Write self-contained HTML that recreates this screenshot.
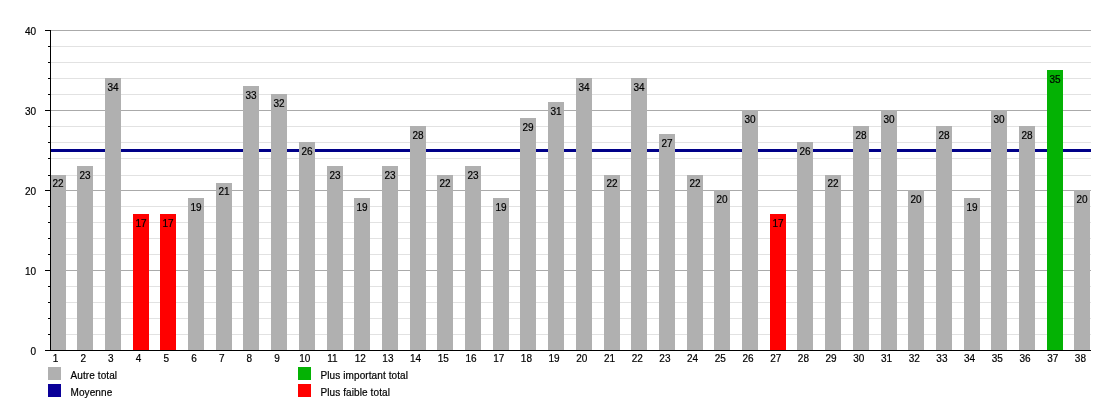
<!DOCTYPE html>
<html><head><meta charset="utf-8"><title>Chart</title>
<style>
html,body{margin:0;padding:0;background:#fff;}
#c{position:relative;width:1120px;height:400px;overflow:hidden;background:#fff;font-family:"Liberation Sans",sans-serif;font-size:10px;line-height:12px;color:#000;}
#c div{position:absolute;}
#c #tx{left:0;top:0;width:1120px;height:400px;will-change:transform;transform:translateZ(0);-webkit-text-stroke:0.2px #000;}
.g{left:51px;width:1040px;height:1px;background:#e2e2e2;}
.G{left:51px;width:1040px;height:1px;background:#aaaaaa;}
.t{left:48px;width:2px;height:1px;background:#000;}
.T{left:45px;width:5px;height:1px;background:#000;}
.b{width:16px;background:#b0b0b0;}
.r{background:#ff0000;}.n{background:#04b204;}
.x{width:30px;text-align:center;top:353px;}
.y{width:30px;text-align:right;}
.s{width:13px;height:13px;}
.v{width:30px;text-align:center;}
.l{white-space:nowrap;letter-spacing:0.1px;}
</style></head>
<body><div id="c">
<div class="g" style="top:334px"></div>
<div class="g" style="top:318px"></div>
<div class="g" style="top:302px"></div>
<div class="g" style="top:286px"></div>
<div class="G" style="top:270px"></div>
<div class="g" style="top:254px"></div>
<div class="g" style="top:238px"></div>
<div class="g" style="top:222px"></div>
<div class="g" style="top:206px"></div>
<div class="G" style="top:190px"></div>
<div class="g" style="top:175px"></div>
<div class="g" style="top:158px"></div>
<div class="g" style="top:142px"></div>
<div class="g" style="top:126px"></div>
<div class="G" style="top:110px"></div>
<div class="g" style="top:94px"></div>
<div class="g" style="top:78px"></div>
<div class="g" style="top:62px"></div>
<div class="g" style="top:46px"></div>
<div class="G" style="top:30px"></div>
<div style="left:51px;top:149px;width:1040px;height:3px;background:#000088"></div>
<div class="b" style="left:50px;top:175px;height:175px"></div>
<div class="b" style="left:77px;top:166px;height:184px"></div>
<div class="b" style="left:105px;top:78px;height:272px"></div>
<div class="b r" style="left:133px;top:214px;height:136px"></div>
<div class="b r" style="left:160px;top:214px;height:136px"></div>
<div class="b" style="left:188px;top:198px;height:152px"></div>
<div class="b" style="left:216px;top:183px;height:167px"></div>
<div class="b" style="left:243px;top:86px;height:264px"></div>
<div class="b" style="left:271px;top:94px;height:256px"></div>
<div class="b" style="left:299px;top:142px;height:208px"></div>
<div class="b" style="left:327px;top:166px;height:184px"></div>
<div class="b" style="left:354px;top:198px;height:152px"></div>
<div class="b" style="left:382px;top:166px;height:184px"></div>
<div class="b" style="left:410px;top:126px;height:224px"></div>
<div class="b" style="left:437px;top:175px;height:175px"></div>
<div class="b" style="left:465px;top:166px;height:184px"></div>
<div class="b" style="left:493px;top:198px;height:152px"></div>
<div class="b" style="left:520px;top:118px;height:232px"></div>
<div class="b" style="left:548px;top:102px;height:248px"></div>
<div class="b" style="left:576px;top:78px;height:272px"></div>
<div class="b" style="left:604px;top:175px;height:175px"></div>
<div class="b" style="left:631px;top:78px;height:272px"></div>
<div class="b" style="left:659px;top:134px;height:216px"></div>
<div class="b" style="left:687px;top:175px;height:175px"></div>
<div class="b" style="left:714px;top:190px;height:160px"></div>
<div class="b" style="left:742px;top:110px;height:240px"></div>
<div class="b r" style="left:770px;top:214px;height:136px"></div>
<div class="b" style="left:797px;top:142px;height:208px"></div>
<div class="b" style="left:825px;top:175px;height:175px"></div>
<div class="b" style="left:853px;top:126px;height:224px"></div>
<div class="b" style="left:881px;top:110px;height:240px"></div>
<div class="b" style="left:908px;top:190px;height:160px"></div>
<div class="b" style="left:936px;top:126px;height:224px"></div>
<div class="b" style="left:964px;top:198px;height:152px"></div>
<div class="b" style="left:991px;top:110px;height:240px"></div>
<div class="b" style="left:1019px;top:126px;height:224px"></div>
<div class="b n" style="left:1047px;top:70px;height:280px"></div>
<div class="b" style="left:1074px;top:190px;height:160px"></div>
<div style="left:50px;top:30px;width:1px;height:321px;background:#000"></div>
<div style="left:45px;top:350px;width:1046px;height:1px;background:#000"></div>
<div class="T" style="top:350px"></div>
<div class="t" style="top:334px"></div>
<div class="t" style="top:318px"></div>
<div class="t" style="top:302px"></div>
<div class="t" style="top:286px"></div>
<div class="T" style="top:270px"></div>
<div class="t" style="top:254px"></div>
<div class="t" style="top:238px"></div>
<div class="t" style="top:222px"></div>
<div class="t" style="top:206px"></div>
<div class="T" style="top:190px"></div>
<div class="t" style="top:175px"></div>
<div class="t" style="top:158px"></div>
<div class="t" style="top:142px"></div>
<div class="t" style="top:126px"></div>
<div class="T" style="top:110px"></div>
<div class="t" style="top:94px"></div>
<div class="t" style="top:78px"></div>
<div class="t" style="top:62px"></div>
<div class="t" style="top:46px"></div>
<div class="T" style="top:30px"></div>
<div class="s" style="left:48px;top:367px;background:#b0b0b0"></div>
<div class="s" style="left:48px;top:384px;background:#0a0099"></div>
<div class="s" style="left:298px;top:367px;background:#04b204"></div>
<div class="s" style="left:298px;top:384px;background:#ff0000"></div>
<div id="tx">
<div class="v" style="left:43px;top:177.5px">22</div>
<div class="v" style="left:70px;top:169.5px">23</div>
<div class="v" style="left:98px;top:81.5px">34</div>
<div class="v" style="left:126px;top:217.5px">17</div>
<div class="v" style="left:153px;top:217.5px">17</div>
<div class="v" style="left:181px;top:201.5px">19</div>
<div class="v" style="left:209px;top:185.5px">21</div>
<div class="v" style="left:236px;top:89.5px">33</div>
<div class="v" style="left:264px;top:97.5px">32</div>
<div class="v" style="left:292px;top:145.5px">26</div>
<div class="v" style="left:320px;top:169.5px">23</div>
<div class="v" style="left:347px;top:201.5px">19</div>
<div class="v" style="left:375px;top:169.5px">23</div>
<div class="v" style="left:403px;top:129.5px">28</div>
<div class="v" style="left:430px;top:177.5px">22</div>
<div class="v" style="left:458px;top:169.5px">23</div>
<div class="v" style="left:486px;top:201.5px">19</div>
<div class="v" style="left:513px;top:121.5px">29</div>
<div class="v" style="left:541px;top:105.5px">31</div>
<div class="v" style="left:569px;top:81.5px">34</div>
<div class="v" style="left:597px;top:177.5px">22</div>
<div class="v" style="left:624px;top:81.5px">34</div>
<div class="v" style="left:652px;top:137.5px">27</div>
<div class="v" style="left:680px;top:177.5px">22</div>
<div class="v" style="left:707px;top:193.5px">20</div>
<div class="v" style="left:735px;top:113.5px">30</div>
<div class="v" style="left:763px;top:217.5px">17</div>
<div class="v" style="left:790px;top:145.5px">26</div>
<div class="v" style="left:818px;top:177.5px">22</div>
<div class="v" style="left:846px;top:129.5px">28</div>
<div class="v" style="left:874px;top:113.5px">30</div>
<div class="v" style="left:901px;top:193.5px">20</div>
<div class="v" style="left:929px;top:129.5px">28</div>
<div class="v" style="left:957px;top:201.5px">19</div>
<div class="v" style="left:984px;top:113.5px">30</div>
<div class="v" style="left:1012px;top:129.5px">28</div>
<div class="v" style="left:1040px;top:73.5px">35</div>
<div class="v" style="left:1067px;top:193.5px">20</div>
<div class="y" style="left:6px;top:346px">0</div>
<div class="y" style="left:6px;top:266px">10</div>
<div class="y" style="left:6px;top:186px">20</div>
<div class="y" style="left:6px;top:106px">30</div>
<div class="y" style="left:6px;top:26px">40</div>
<div class="x" style="left:40.50px">1</div>
<div class="x" style="left:68.20px">2</div>
<div class="x" style="left:95.90px">3</div>
<div class="x" style="left:123.60px">4</div>
<div class="x" style="left:151.30px">5</div>
<div class="x" style="left:179.00px">6</div>
<div class="x" style="left:206.70px">7</div>
<div class="x" style="left:234.40px">8</div>
<div class="x" style="left:262.10px">9</div>
<div class="x" style="left:289.80px">10</div>
<div class="x" style="left:317.50px">11</div>
<div class="x" style="left:345.20px">12</div>
<div class="x" style="left:372.90px">13</div>
<div class="x" style="left:400.60px">14</div>
<div class="x" style="left:428.30px">15</div>
<div class="x" style="left:456.00px">16</div>
<div class="x" style="left:483.70px">17</div>
<div class="x" style="left:511.40px">18</div>
<div class="x" style="left:539.10px">19</div>
<div class="x" style="left:566.80px">20</div>
<div class="x" style="left:594.50px">21</div>
<div class="x" style="left:622.20px">22</div>
<div class="x" style="left:649.90px">23</div>
<div class="x" style="left:677.60px">24</div>
<div class="x" style="left:705.30px">25</div>
<div class="x" style="left:733.00px">26</div>
<div class="x" style="left:760.70px">27</div>
<div class="x" style="left:788.40px">28</div>
<div class="x" style="left:816.10px">29</div>
<div class="x" style="left:843.80px">30</div>
<div class="x" style="left:871.50px">31</div>
<div class="x" style="left:899.20px">32</div>
<div class="x" style="left:926.90px">33</div>
<div class="x" style="left:954.60px">34</div>
<div class="x" style="left:982.30px">35</div>
<div class="x" style="left:1010.00px">36</div>
<div class="x" style="left:1037.70px">37</div>
<div class="x" style="left:1065.40px">38</div>
<div class="l" style="left:70.5px;top:370px">Autre total</div>
<div class="l" style="left:70.5px;top:387px">Moyenne</div>
<div class="l" style="left:320.5px;top:370px">Plus important total</div>
<div class="l" style="left:320.5px;top:387px">Plus faible total</div>
</div>
</div></body></html>
